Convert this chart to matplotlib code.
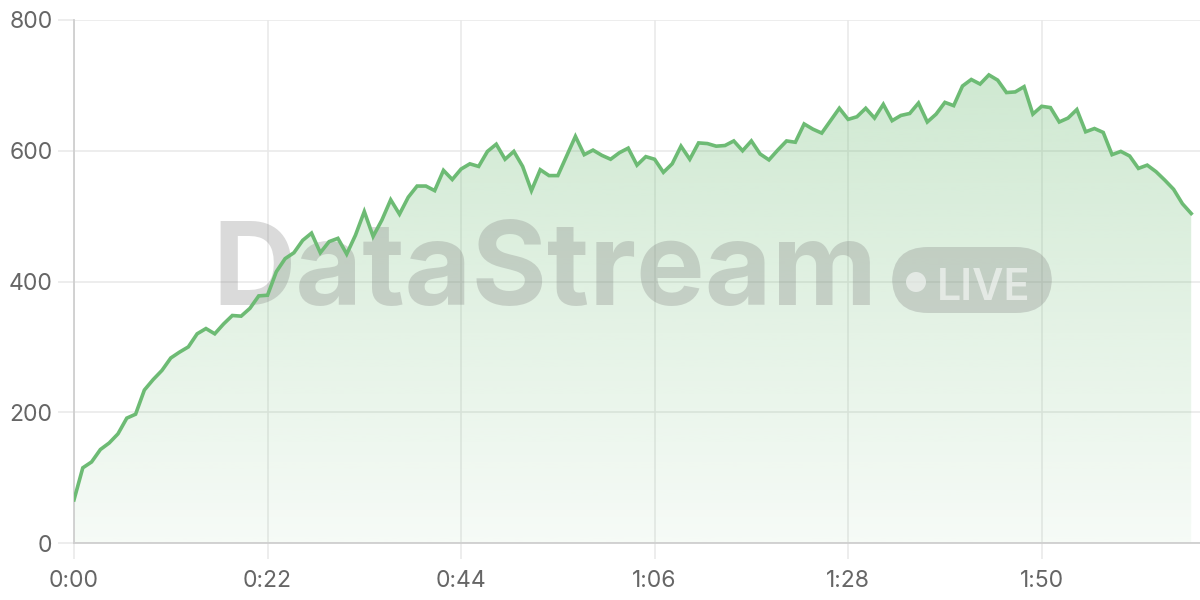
import numpy as np
import matplotlib
matplotlib.use('Agg')
import matplotlib.pyplot as plt
from matplotlib.patches import Polygon, FancyBboxPatch, Ellipse

# ---- data ----
seconds = list(range(128))
values = [66, 115, 124, 143, 153, 167, 191, 197, 234, 250,
          264, 283, 292, 300, 320, 328, 320, 335, 348, 347,
          359, 378, 379, 415, 435, 444, 463, 474, 444, 461,
          466, 442, 471, 507, 469, 494, 525, 503, 529, 546,
          546, 539, 570, 556, 572, 580, 576, 599, 610, 587,
          599, 576, 539, 571, 562, 562, 592, 622, 594, 601,
          593, 587, 597, 604, 578, 591, 587, 567, 580, 607,
          587, 612, 611, 607, 608, 615, 600, 615, 595, 586,
          601, 615, 613, 641, 633, 627, 646, 665, 648, 652,
          665, 650, 671, 646, 654, 657, 673, 644, 656, 674,
          669, 699, 709, 702, 716, 708, 689, 690, 698, 656,
          668, 666, 644, 650, 663, 629, 634, 628, 594, 599,
          592, 573, 578, 568, 555, 541, 519, 504]
x_ticks = [0, 22, 44, 66, 88, 110]
x_tick_labels = ['0:00', '0:22', '0:44', '1:06', '1:28', '1:50']
y_ticks = [0, 200, 400, 600, 800]
y_tick_labels = ['0', '200', '400', '600', '800']
watermark = 'DataStream'
badge = 'LIVE'

# ---- style ----
plt.rcParams['font.family'] = ['Inter', 'DejaVu Sans']
line_color = '#6dbb74'
grid_color = '#e8e8e8'
spine_color = '#cfcfcf'
label_color = '#666666'

fig = plt.figure(figsize=(12, 6), dpi=100)
ax = fig.add_axes([74/1200, 1-543/600, 1126/1200, 523/600])
ax.set_xlim(0, 128)
ax.set_ylim(0, 800)

# gradient fill under line
ymax = 800
n = 256
grad = np.zeros((n, 1, 4))
rgb = np.array([109, 187, 116]) / 255
frac = np.linspace(0, 1, n)
grad[:, 0, :3] = rgb
grad[:, 0, 3] = 0.06 + 0.30 * frac
im = ax.imshow(grad, extent=[seconds[0], seconds[-1], 0, ymax], origin='lower',
               aspect='auto', zorder=1, interpolation='bilinear')
poly_xy = [(seconds[0], 0)] + list(zip(seconds, values)) + [(seconds[-1], 0)]
clip = Polygon(poly_xy, closed=True, facecolor='none', edgecolor='none')
ax.add_patch(clip)
im.set_clip_path(clip)

ax.plot(seconds, values, color=line_color, lw=2.6, zorder=5, solid_joinstyle='miter')

# watermark
wm_gray = '#7a7a7a'
ax.text(545/1200, 1-305/600, watermark, transform=fig.transFigure, ha='center', va='baseline',
        fontsize=83, fontweight='bold', color=wm_gray, alpha=0.28, zorder=3)
bx0, by0, bw, bh = 892, 247, 160, 66
box = FancyBboxPatch((bx0/1200, 1-(by0+bh)/600), bw/1200, bh/600,
                     boxstyle='round,pad=0,rounding_size=0.03', transform=fig.transFigure,
                     facecolor=wm_gray, edgecolor='none', alpha=0.28, zorder=3,
                     mutation_aspect=2.0)
ax.add_patch(box)
ax.add_patch(Ellipse((916/1200, 1-282/600), 20/1200, 20/600, transform=fig.transFigure,
                     facecolor='white', edgecolor='none', alpha=0.55, zorder=4))
ax.text(937/1200, 1-300/600, badge, transform=fig.transFigure, ha='left', va='baseline',
        fontsize=31, fontweight='semibold', color='white', alpha=0.55, zorder=4)

# axes styling
for s in ['top', 'right']:
    ax.spines[s].set_visible(False)
for s in ['left', 'bottom']:
    ax.spines[s].set_color(spine_color)
    ax.spines[s].set_linewidth(1.3)
ax.set_xticks(x_ticks)
ax.set_xticklabels(x_tick_labels)
ax.set_yticks(y_ticks)
ax.set_yticklabels(y_tick_labels)
ax.grid(True, color=grid_color, lw=1.1, zorder=0)
ax.set_axisbelow(True)
ax.tick_params(axis='both', length=11.5, width=1.1, color=grid_color,
               labelcolor=label_color, labelsize=16.5)
ax.tick_params(axis='y', pad=4)
ax.tick_params(axis='x', pad=8)

fig.savefig('out.png', dpi=100)
